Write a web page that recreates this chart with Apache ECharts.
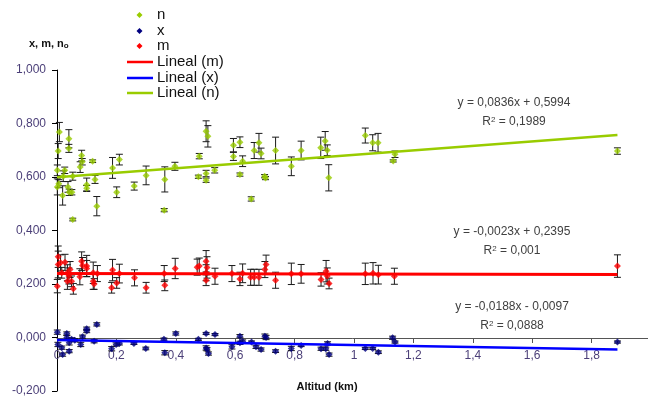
<!DOCTYPE html>
<html><head><meta charset="utf-8">
<script src="https://cdn.jsdelivr.net/npm/echarts@6/dist/echarts.min.js"></script>
<style>html,body{margin:0;padding:0;background:#fff}#c{width:648px;height:396px}</style>
</head><body><div id="c"></div>
<script>
// Altitude (km), value, error for n (green)
const nAlt = [0.008,0.004,0.040,0.040,0.001,0.026,0.083,0.085,0.120,0.078,0.021,0.053,0.001,0.006,0.019,0.037,0.041,0.050,0.053,0.100,0.100,0.128,0.134,0.187,0.210,0.201,0.260,0.300,0.363,0.361,0.397,0.479,0.476,0.502,0.508,0.502,0.502,0.531,0.594,0.594,0.616,0.625,0.616,0.654,0.664,0.680,0.687,0.699,0.702,0.736,0.789,0.822,0.888,0.903,0.910,0.915,1.038,1.063,1.081,1.138,1.132,1.887];
const nVal = [0.768,0.697,0.743,0.707,0.625,0.625,0.680,0.657,0.659,0.637,0.603,0.603,0.563,0.575,0.531,0.563,0.543,0.543,0.441,0.571,0.558,0.591,0.491,0.634,0.665,0.543,0.566,0.606,0.591,0.476,0.640,0.678,0.601,0.771,0.752,0.613,0.588,0.625,0.719,0.677,0.730,0.659,0.609,0.518,0.699,0.728,0.688,0.603,0.596,0.699,0.640,0.699,0.709,0.735,0.700,0.597,0.755,0.728,0.728,0.685,0.660,0.697];
const nErr = [0.036,0.028,0.034,0.015,0.020,0.012,0.020,0.012,0.005,0.020,0.020,0.015,0.030,0.015,0.036,0.020,0.012,0.010,0.005,0.025,0.010,0.015,0.036,0.039,0.020,0.020,0.015,0.035,0.047,0.006,0.015,0.010,0.006,0.039,0.040,0.012,0.008,0.010,0.025,0.015,0.020,0.020,0.006,0.008,0.030,0.035,0.020,0.006,0.006,0.050,0.035,0.035,0.040,0.035,0.020,0.049,0.028,0.030,0.035,0.012,0.004,0.012];

// m (red)
const mAlt = [0.001,0.004,0.004,0.012,0.027,0.016,0.035,0.040,0.044,0.035,0.049,0.055,0.083,0.086,0.077,0.100,0.100,0.122,0.122,0.125,0.136,0.187,0.184,0.201,0.210,0.261,0.300,0.361,0.363,0.398,0.472,0.479,0.502,0.505,0.502,0.502,0.532,0.589,0.616,0.625,0.652,0.664,0.680,0.700,0.704,0.736,0.789,0.822,0.889,0.906,0.910,0.916,1.038,1.064,1.082,1.136,1.887];
const mVal = [0.192,0.273,0.302,0.279,0.281,0.242,0.242,0.230,0.254,0.210,0.210,0.182,0.285,0.269,0.227,0.267,0.258,0.242,0.210,0.200,0.239,0.252,0.186,0.204,0.239,0.223,0.186,0.239,0.195,0.258,0.263,0.267,0.285,0.262,0.242,0.214,0.229,0.239,0.219,0.240,0.225,0.225,0.225,0.254,0.273,0.214,0.238,0.238,0.217,0.248,0.230,0.202,0.238,0.240,0.235,0.229,0.267];
const mErr = [0.025,0.050,0.040,0.030,0.030,0.020,0.030,0.030,0.030,0.030,0.020,0.020,0.035,0.030,0.030,0.040,0.030,0.040,0.030,0.020,0.030,0.040,0.020,0.020,0.035,0.030,0.020,0.030,0.020,0.038,0.030,0.030,0.040,0.040,0.030,0.020,0.030,0.030,0.025,0.035,0.030,0.030,0.030,0.030,0.035,0.030,0.040,0.035,0.025,0.040,0.030,0.020,0.040,0.040,0.035,0.030,0.042];

// x (blue)
const xAlt = [0.001,0.003,0.016,0.019,0.033,0.033,0.041,0.041,0.049,0.060,0.080,0.086,0.100,0.100,0.134,0.125,0.184,0.199,0.210,0.259,0.299,0.360,0.363,0.400,0.476,0.502,0.532,0.502,0.505,0.510,0.589,0.616,0.616,0.625,0.655,0.670,0.687,0.700,0.704,0.736,0.789,0.822,0.889,0.905,0.911,0.916,1.038,1.063,1.082,1.130,1.138,1.887];
const xVal = [0.020,-0.026,-0.038,-0.064,0.015,0.000,-0.020,-0.051,-0.007,-0.010,-0.026,0.003,0.024,0.033,0.049,-0.014,-0.042,-0.026,-0.022,-0.022,-0.041,-0.007,-0.057,0.015,-0.007,0.015,0.011,-0.039,-0.044,-0.060,-0.035,0.005,-0.020,-0.015,-0.017,-0.035,-0.045,0.005,0.000,-0.051,-0.041,-0.030,-0.042,-0.042,-0.022,-0.064,-0.041,-0.041,-0.055,-0.001,-0.017,-0.017];
const xErr = [0.008,0.008,0.006,0.006,0.006,0.008,0.008,0.006,0.006,0.006,0.008,0.006,0.006,0.006,0.006,0.006,0.008,0.006,0.006,0.004,0.005,0.005,0.008,0.006,0.004,0.004,0.004,0.008,0.006,0.006,0.008,0.006,0.006,0.006,0.004,0.006,0.006,0.008,0.008,0.005,0.008,0.004,0.006,0.006,0.006,0.006,0.004,0.004,0.005,0.006,0.004,0.004];

// Linear trend lines (endpoints)
const trendX = [0, 1.887];
const trendN = [0.5994, 0.7571];
const trendM = [0.2395, 0.2352];
const trendXs = [-0.0097, -0.0452];

const yTicks = [-0.2, 0, 0.2, 0.4, 0.6, 0.8, 1.0];
const xTicks = [0, 0.2, 0.4, 0.6, 0.8, 1, 1.2, 1.4, 1.6, 1.8, 2];

const eqN = ['y = 0,0836x + 0,5994', '0,1989'];
const eqM = ['y = -0,0023x + 0,2395', '0,001'];
const eqX = ['y = -0,0188x - 0,0097', '0,0888'];

const legendNames = ['n', 'x', 'm', 'Lineal (m)', 'Lineal (x)', 'Lineal (n)'];

const C_N = '#99cc00', C_X = '#000080', C_M = '#ff0000', C_LX = '#0000ff';

function zip3(a, b, c) { return a.map((v, i) => [v, b[i], c[i]]); }
function zip2(a, b) { return a.map((v, i) => [v, b[i]]); }

function renderErr(params, api) {
  const x = api.value(0), y = api.value(1), e = api.value(2);
  const t = api.coord([x, y + e]), b = api.coord([x, y - e]);
  const w = 3.5;
  const st = { stroke: '#1a1a1a', lineWidth: 1 };
  return { type: 'group', children: [
    { type: 'line', shape: { x1: t[0], y1: t[1], x2: b[0], y2: b[1] }, style: st },
    { type: 'line', shape: { x1: t[0] - w, y1: t[1], x2: t[0] + w, y2: t[1] }, style: st },
    { type: 'line', shape: { x1: b[0] - w, y1: b[1], x2: b[0] + w, y2: b[1] }, style: st }
  ]};
}

const chart = echarts.init(document.getElementById('c'), null, { renderer: 'canvas' });

const labelColor = '#4b3f78';
const fontFam = 'Liberation Sans, Arial, sans-serif';

function errSeries(data) {
  return { type: 'custom', renderItem: renderErr, data: data, encode: { x: 0, y: 1 }, z: 2, silent: true, clip: false };
}
function scat(name, data, color) {
  return { name: name, type: 'scatter', data: data, symbol: 'diamond', symbolSize: 7, itemStyle: { color: color }, z: 3, silent: true };
}
function tline(name, ys, color, w) {
  return { name: name, type: 'line', data: zip2(trendX, ys), showSymbol: false, lineStyle: { color: color, width: w }, z: 4, silent: true };
}

const legendRowsY = [15, 31, 46, 62, 78, 93];
const legendGraphics = [];
const legendColors = [C_N, C_X, C_M, C_M, C_LX, C_N];
legendNames.forEach((nm, i) => {
  const y = legendRowsY[i];
  if (i < 3) {
    legendGraphics.push({ type: 'polygon', shape: { points: [[139.5, y - 3], [142.5, y], [139.5, y + 3], [136.5, y]] }, style: { fill: legendColors[i] } });
  } else {
    legendGraphics.push({ type: 'line', shape: { x1: 127, y1: y, x2: 153, y2: y }, style: { stroke: legendColors[i], lineWidth: 2.5 } });
  }
  legendGraphics.push({ type: 'text', x: 157, y: y, style: { text: nm, font: '15px ' + fontFam, fill: '#111', textVerticalAlign: 'middle' } });
});

function eqGraphic(eq, cx, y) {
  return [
    { type: 'text', x: cx, y: y, style: { text: eq[0], font: '12px ' + fontFam, fill: '#404040', textAlign: 'center', textVerticalAlign: 'middle' } },
    { type: 'text', x: cx, y: y + 19, style: {
      text: '{r|R}{s|2}{r| = ' + eq[1] + '}', textAlign: 'center', textVerticalAlign: 'middle',
      rich: { r: { font: '12px ' + fontFam, fill: '#404040' }, s: { font: '8px ' + fontFam, fill: '#404040', verticalAlign: 'top', padding: [0, 0, 5, 0] } }
    } }
  ];
}

chart.setOption({
  animation: false,
  backgroundColor: '#ffffff',
  grid: { left: 57, right: -3, top: 70, bottom: 5, containLabel: false, outerBoundsMode: 'none' },
  xAxis: {
    type: 'value', min: 0, max: 2, interval: 0.2, position: 'bottom', offset: -53,
    axisLine: { onZero: false, lineStyle: { color: '#555', width: 1 } },
    axisTick: { show: true, length: 5, lineStyle: { color: '#555' } },
    splitLine: { show: false },
    axisLabel: { color: labelColor, fontSize: 12, fontFamily: fontFam, margin: 12,
      formatter: v => { const r = Math.round(v * 10) / 10; return String(r).replace('.', ','); } }
  },
  yAxis: {
    type: 'value', min: -0.2, max: 1.0, interval: 0.2,
    axisLine: { show: true, onZero: false, lineStyle: { color: '#000', width: 1 } },
    axisTick: { show: true, length: 5, lineStyle: { color: '#000' } },
    splitLine: { show: false },
    axisLabel: { color: labelColor, fontSize: 12, fontFamily: fontFam, margin: 11,
      formatter: v => (Math.round(v * 1000) / 1000).toFixed(3).replace('.', ',') }
  },
  series: [
    errSeries(zip3(nAlt, nVal, nErr)),
    errSeries(zip3(mAlt, mVal, mErr)),
    errSeries(zip3(xAlt, xVal, xErr)),
    scat('n', zip2(nAlt, nVal), C_N),
    scat('x', zip2(xAlt, xVal), C_X),
    scat('m', zip2(mAlt, mVal), C_M),
    tline('Lineal (m)', trendM, C_M, 3),
    tline('Lineal (x)', trendXs, C_LX, 2.5),
    tline('Lineal (n)', trendN, C_N, 2.5)
  ],
  graphic: [].concat(
    legendGraphics,
    [
      { type: 'text', x: 29, y: 44, style: {
        text: '{a|x, m, n}{b|o}', textVerticalAlign: 'middle',
        rich: { a: { font: 'bold 11px ' + fontFam, fill: '#111' }, b: { font: 'bold 8px ' + fontFam, fill: '#111', verticalAlign: 'bottom', padding: [4, 0, 0, 0] } }
      } },
      { type: 'text', x: 327, y: 387, style: { text: 'Altitud (km)', font: 'bold 11px ' + fontFam, fill: '#111', textAlign: 'center', textVerticalAlign: 'middle' } }
    ],
    eqGraphic(eqN, 514, 103),
    eqGraphic(eqM, 512, 232),
    eqGraphic(eqX, 512, 307)
  )
});
</script></body></html>
